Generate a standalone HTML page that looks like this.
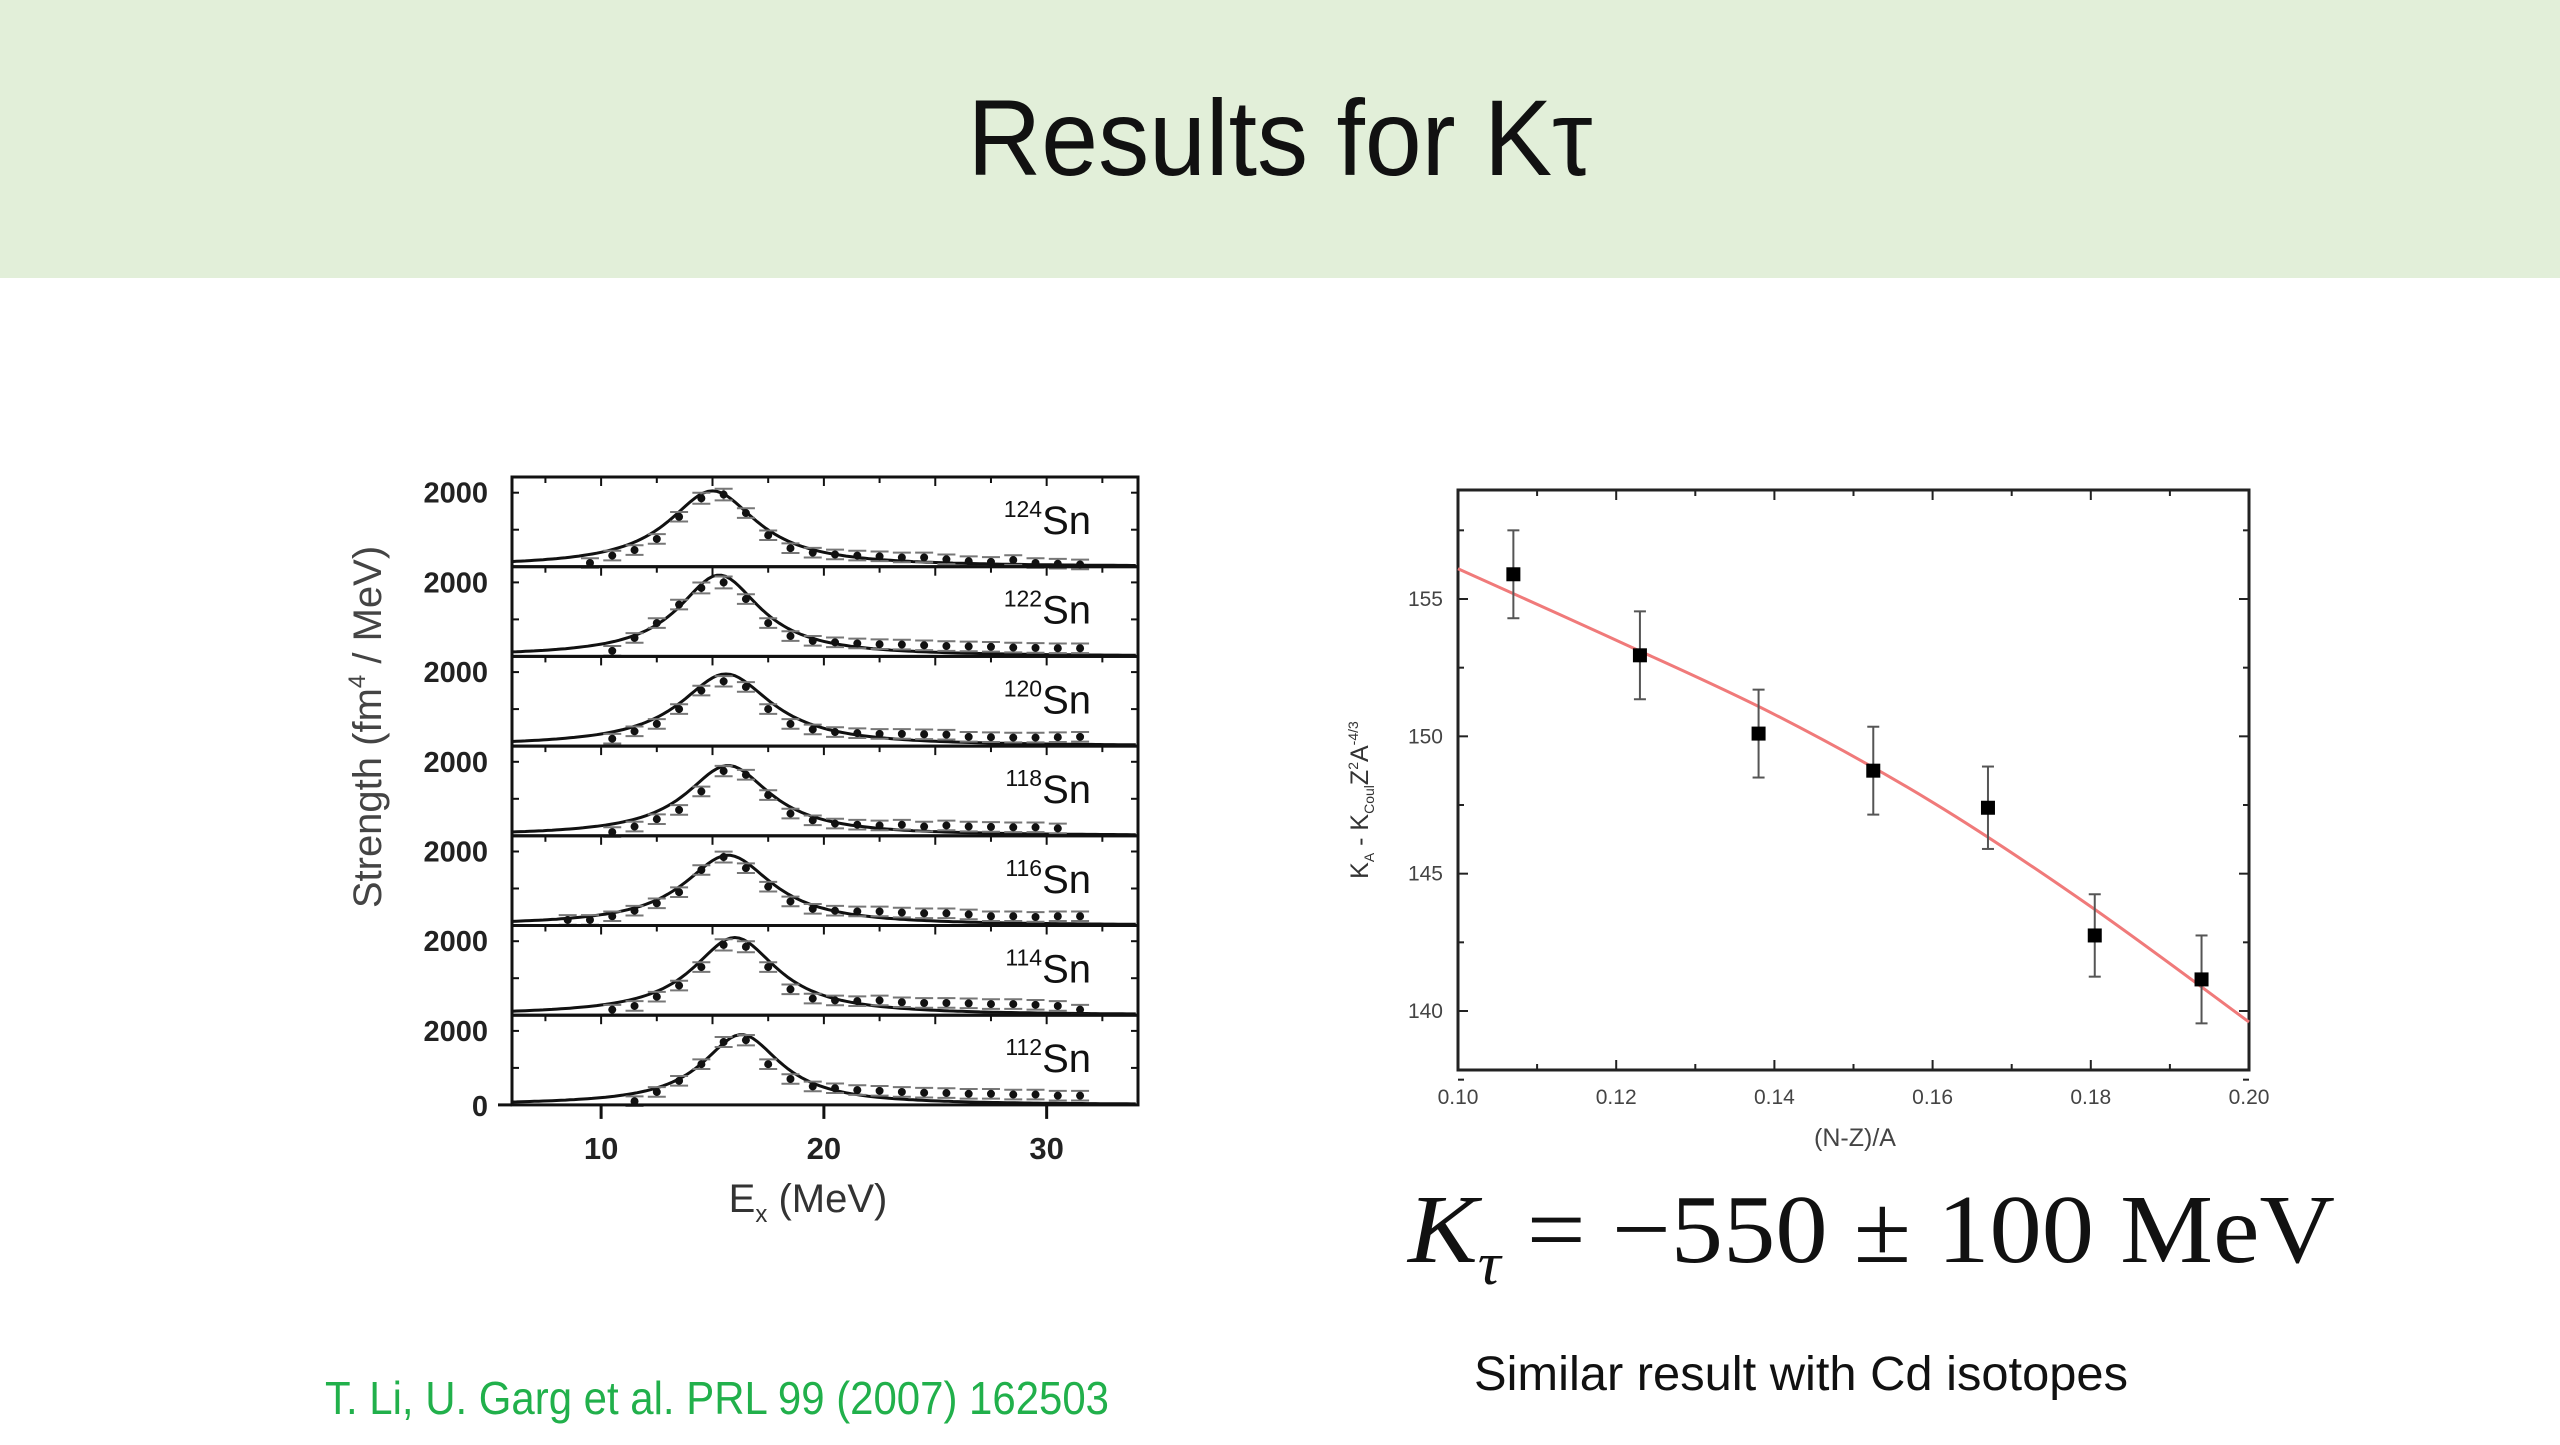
<!DOCTYPE html>
<html><head><meta charset="utf-8"><style>
html,body{margin:0;padding:0;background:#fff;}
body{width:2560px;height:1440px;position:relative;overflow:hidden;font-family:"Liberation Sans",sans-serif;}
</style></head><body>
<svg id="s" width="2560" height="1440" viewBox="0 0 2560 1440" xmlns="http://www.w3.org/2000/svg">
<rect x="0" y="0" width="2560" height="278" fill="#e2efd9"/>
<text x="1280" y="175" text-anchor="middle" font-size="108" fill="#111" textLength="625" lengthAdjust="spacingAndGlyphs">Results for Kτ</text>
<g id="left"></g>
<g id="right"></g>
<text x="1408" y="1262" font-family="Liberation Serif,serif" font-size="98" fill="#111" textLength="927" lengthAdjust="spacingAndGlyphs"><tspan font-style="italic">K</tspan><tspan font-style="italic" font-size="60" dy="22">τ</tspan><tspan dy="-22"> = −550 ± 100 MeV</tspan></text>
<text x="1474" y="1390" font-size="48" fill="#111" textLength="654" lengthAdjust="spacingAndGlyphs">Similar result with Cd isotopes</text>
<text x="325" y="1414" font-size="46" fill="#21b04b" textLength="784" lengthAdjust="spacingAndGlyphs">T. Li, U. Garg et al. PRL 99 (2007) 162503</text>
</svg>
<script>
// ---------- left chart data ----------
const isotopes=["124","122","120","118","116","114","112"];
const fitCentroid=[15.0,15.3,15.6,15.7,15.7,16.0,16.3];
const fitWidth=[2.6,2.4,2.7,2.5,2.6,2.5,2.3];
const fitPeak=[2050,2200,1950,1900,1900,2100,1900];
const energies=[8.5,9.5,10.5,11.5,12.5,13.5,14.5,15.5,16.5,17.5,18.5,19.5,20.5,21.5,22.5,23.5,24.5,25.5,26.5,27.5,28.5,29.5,30.5,31.5];
const strength124=[null,100,300,450,750,1350,1850,1950,1450,850,500,380,330,300,280,250,250,200,150,130,180,100,80,60];
const strength122=[null,null,150,500,900,1400,1850,2000,1550,900,550,420,380,350,330,320,300,280,270,260,240,230,220,220];
const strength120=[null,null,200,400,600,1000,1500,1750,1600,1000,600,450,380,350,330,330,320,310,250,240,230,230,240,250];
const strength118=[null,null,100,250,450,700,1200,1750,1650,1100,600,420,330,300,280,300,250,280,250,240,230,230,200,null];
const strength116=[150,150,250,400,600,900,1500,1850,1550,1050,650,450,400,380,380,350,330,330,300,250,250,230,250,250];
const strength114=[null,null,150,250,500,800,1300,1900,1850,1300,700,450,400,380,400,350,330,330,320,300,300,280,250,150];
const strength112=[null,null,null,100,350,650,1100,1700,1750,1100,700,500,450,400,380,350,330,320,300,300,280,280,250,250];
const strengthSets=[strength124,strength122,strength120,strength118,strength116,strength114,strength112];
const xTicksL=[10,20,30];

// ---------- right chart data ----------
const asym=[0.107,0.123,0.138,0.1525,0.167,0.1805,0.194];
const kval=[155.9,152.95,150.1,148.75,147.4,142.75,141.15];
const kerr=[1.6,1.6,1.6,1.6,1.5,1.5,1.6];
const fitX=[0.10,0.12,0.14,0.16,0.18,0.20];
const fitY=[156.1,153.5,150.8,147.6,143.8,139.6];
const xTicksR=["0.10","0.12","0.14","0.16","0.18","0.20"];
const yTicksR=["140","145","150","155"];

const NS="http://www.w3.org/2000/svg";
function mk(p,tag,attrs){const e=document.createElementNS(NS,tag);for(const k in attrs)e.setAttribute(k,attrs[k]);p.appendChild(e);return e;}

// ----- left -----
const L=document.getElementById('left');
const lx0=512,lx1=1138,ltop=477,ph=89.7;
const xL=e=>lx0+(e-6.0)*(lx1-lx0)/(34.1-6.0);
const yL=(i,v)=>ltop+ph*(i+1)-v*74/2000;
isotopes.forEach((iso,i)=>{
  const g=mk(L,'g',{});
  
  
  const top=ltop+ph*i,bot=top+ph;
  for(let e=7.5;e<34;e+=2.5){const x=xL(e);const big=(e%5===0);
    const t=mk(g,'line',{x1:x,x2:x,y1:top,y2:top+(big?9:6),stroke:'#111','stroke-width':2});
    }
  [1000,2000].forEach(v=>{const y=yL(i,v);
    mk(g,'line',{x1:lx0,x2:lx0+7,y1:y,y2:y,stroke:'#111','stroke-width':2});
    mk(g,'line',{x1:lx1-7,x2:lx1,y1:y,y2:y,stroke:'#111','stroke-width':2});});
  const lab=mk(g,'text',{x:488,y:yL(i,2000)+10,'text-anchor':'end','font-size':29,'font-weight':'bold',fill:'#222'});
  lab.textContent='2000';
  
  let d='';
  for(let e=6.0;e<=34.1;e+=0.2){const z=(e-fitCentroid[i])/fitWidth[i];const v=fitPeak[i]/(1+z*z*1.15);
    d+=(d?'L':'M')+xL(e).toFixed(1)+','+yL(i,v).toFixed(1);}
  const c=mk(g,'path',{d:d,fill:'none',stroke:'#111','stroke-width':3});
  
  strengthSets[i].forEach((v,j)=>{if(v==null)return;const x=xL(energies[j]),y=yL(i,v),er=Math.max(130,v*0.08)*74/2000;
    const pg=mk(g,'g',{});
    
    mk(pg,'line',{x1:x,x2:x,y1:y-er,y2:y+er,stroke:'#777','stroke-width':2});
    mk(pg,'line',{x1:x-9,x2:x+9,y1:y-er,y2:y-er,stroke:'#777','stroke-width':2});
    mk(pg,'line',{x1:x-9,x2:x+9,y1:y+er,y2:y+er,stroke:'#777','stroke-width':2});
    mk(pg,'circle',{cx:x,cy:y,r:4,fill:'#111'});});
  const sn=mk(g,'text',{x:1091,y:top+57,'text-anchor':'end','font-size':40,fill:'#111'});
  sn.innerHTML='<tspan font-size="23" dy="-17">'+iso+'</tspan><tspan dy="17">Sn</tspan>';
  
  mk(g,'rect',{x:lx0,y:top,width:lx1-lx0,height:ph,fill:'none',stroke:'#111','stroke-width':3});
});
mk(L,'line',{x1:lx0-14,x2:lx0,y1:yL(6,0),y2:yL(6,0),stroke:'#111','stroke-width':3});
const zero=mk(L,'text',{x:488,y:yL(6,0)+11,'text-anchor':'end','font-size':29,'font-weight':'bold',fill:'#222'});zero.textContent='0';

xTicksL.forEach(v=>{const x=xL(v);
  mk(L,'line',{x1:x,x2:x,y1:yL(6,0),y2:yL(6,0)+14,stroke:'#111','stroke-width':3});
  const t=mk(L,'text',{x:x,y:1159,'text-anchor':'middle','font-size':31,'font-weight':'bold',fill:'#222'});t.textContent=v;
  });
const xt=mk(L,'text',{x:808,y:1212,'text-anchor':'middle','font-size':40,fill:'#333'});
xt.innerHTML='E<tspan font-size="24" dy="10">x</tspan><tspan dy="-10"> (MeV)</tspan>';

const yt=mk(L,'text',{x:0,y:0,'text-anchor':'middle','font-size':40,fill:'#444',transform:'translate(381,727) rotate(-90)'});
yt.innerHTML='Strength  (fm<tspan font-size="24" dy="-16">4</tspan><tspan dy="16"> / MeV)</tspan>';


// ----- right -----
const R=document.getElementById('right');
const rx0=1458,rx1=2249,rtop=490,rbot=1070;
const xR=v=>rx0+(v-0.10)*(rx1-rx0)/0.10;
const yR=v=>599+(155-v)*(1011-599)/15;
mk(R,'rect',{x:rx0,y:rtop,width:rx1-rx0,height:rbot-rtop,fill:'none',stroke:'#222','stroke-width':3});
for(let v=0.10;v<=0.2001;v+=0.01){const x=xR(v),big=Math.round(v*100)%2===0;
  mk(R,'line',{x1:x,x2:x,y1:rbot,y2:rbot-(big?10:6),stroke:'#222','stroke-width':2});
  mk(R,'line',{x1:x,x2:x,y1:rtop,y2:rtop+(big?10:6),stroke:'#222','stroke-width':2});}
for(let v=137.5;v<159;v+=2.5){const y=yR(v),big=v%5===0;
  mk(R,'line',{x1:rx0,x2:rx0+(big?10:6),y1:y,y2:y,stroke:'#222','stroke-width':2});
  mk(R,'line',{x1:rx1,x2:rx1-(big?10:6),y1:y,y2:y,stroke:'#222','stroke-width':2});}
xTicksR.forEach(s=>{const t=mk(R,'text',{x:xR(+s),y:1104,'text-anchor':'middle','font-size':21,fill:'#444'});t.textContent=s;
  });
yTicksR.forEach(s=>{const t=mk(R,'text',{x:1443,y:yR(+s)+7,'text-anchor':'end','font-size':21,fill:'#444'});t.textContent=s;
  });
const xr=mk(R,'text',{x:1855,y:1146,'text-anchor':'middle','font-size':25,fill:'#444'});xr.textContent='(N-Z)/A';

const yr=mk(R,'text',{x:0,y:0,'text-anchor':'middle','font-size':25,fill:'#333',transform:'translate(1368,800) rotate(-90)'});
yr.innerHTML='K<tspan font-size="14" dy="6">A</tspan><tspan dy="-6"> - K</tspan><tspan font-size="14" dy="6">Coul</tspan><tspan dy="-6">Z</tspan><tspan font-size="14" dy="-10">2</tspan><tspan dy="10">A</tspan><tspan font-size="14" dy="-10">-4/3</tspan>';

// smooth fit through fit points (Catmull-Rom)
const fp=fitX.map((x,i)=>[xR(x),yR(fitY[i])]);
let fd='M'+fp[0][0].toFixed(1)+','+fp[0][1].toFixed(1);
for(let i=0;i<fp.length-1;i++){const p0=fp[Math.max(0,i-1)],p1=fp[i],p2=fp[i+1],p3=fp[Math.min(fp.length-1,i+2)];
  const c1=[p1[0]+(p2[0]-p0[0])/6,p1[1]+(p2[1]-p0[1])/6],c2=[p2[0]-(p3[0]-p1[0])/6,p2[1]-(p3[1]-p1[1])/6];
  fd+='C'+c1[0].toFixed(1)+','+c1[1].toFixed(1)+' '+c2[0].toFixed(1)+','+c2[1].toFixed(1)+' '+p2[0].toFixed(1)+','+p2[1].toFixed(1);}
const fl=mk(R,'path',{d:fd,fill:'none',stroke:'#f07a7a','stroke-width':3});

asym.forEach((a,i)=>{const x=xR(a),y=yR(kval[i]),e1=yR(kval[i]+kerr[i]),e2=yR(kval[i]-kerr[i]);
  const g=mk(R,'g',{});
  
  mk(g,'line',{x1:x,x2:x,y1:e1,y2:e2,stroke:'#555','stroke-width':2});
  mk(g,'line',{x1:x-6,x2:x+6,y1:e1,y2:e1,stroke:'#555','stroke-width':2});
  mk(g,'line',{x1:x-6,x2:x+6,y1:e2,y2:e2,stroke:'#555','stroke-width':2});
  mk(g,'rect',{x:x-7,y:y-7,width:14,height:14,fill:'#000'});});
</script>
</body></html>
